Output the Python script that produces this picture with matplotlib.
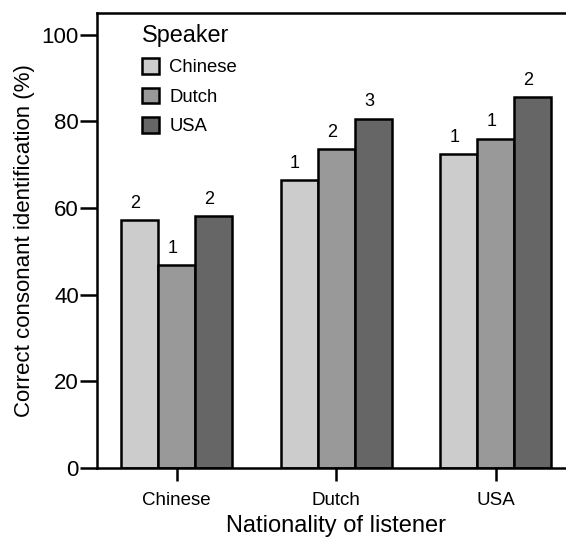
import matplotlib
matplotlib.use("Agg")
import matplotlib.pyplot as plt
import numpy as np

plt.rcParams['font.family'] = ['Liberation Sans', 'DejaVu Sans']

listeners = ["Chinese", "Dutch", "USA"]
speakers = ["Chinese", "Dutch", "USA"]
values = {
    "Chinese": [57.2, 66.5, 72.4],
    "Dutch": [46.8, 73.6, 76.0],
    "USA": [58.1, 80.6, 85.6],
}
counts = {
    "Chinese": [2, 1, 1],
    "Dutch": [1, 2, 1],
    "USA": [2, 3, 2],
}
colors = {"Chinese": "#cccccc", "Dutch": "#999999", "USA": "#666666"}

fig = plt.figure(figsize=(5.66, 5.37), dpi=100)
ax = fig.add_axes([97/566, 69/537, (575.5-97)/566, (524-69)/537])

x = np.arange(len(listeners))
w = 0.232
for i, sp in enumerate(speakers):
    xs = x + (i - 1) * w
    ax.bar(xs, values[sp], width=w, color=colors[sp], edgecolor="black",
           linewidth=1.8, label=sp, zorder=2)
    for xi, v, c in zip(xs, values[sp], counts[sp]):
        ax.annotate(str(c), (xi, v), xytext=(-3, 6), textcoords="offset points",
                    ha="center", va="bottom", fontsize=13)

ax.set_xlim(-0.5, 2.5)
ax.set_ylim(0, 105)
ax.set_yticks([0, 20, 40, 60, 80, 100])
ax.set_xticks(x)
ax.set_xticklabels(listeners, fontsize=13.5)
ax.tick_params(axis="y", labelsize=16, length=12, width=1.8, pad=1)
ax.tick_params(axis="x", length=9, width=1.8, pad=8)
for s in ax.spines.values():
    s.set_linewidth(1.8)
ax.set_ylabel("Correct consonant identification (%)", fontsize=16, labelpad=5)
ax.set_xlabel("Nationality of listener", fontsize=17, labelpad=4.5)

leg = ax.legend(title="Speaker", loc="upper left", frameon=False, fontsize=13.3,
                title_fontsize=16.8, handlelength=0.95, handleheight=0.95,
                handletextpad=0.55, labelspacing=0.6, borderaxespad=0.2,
                bbox_to_anchor=(0.07, 1.0))
leg._legend_box.align = "left"

fig.savefig("out.png", dpi=100)
